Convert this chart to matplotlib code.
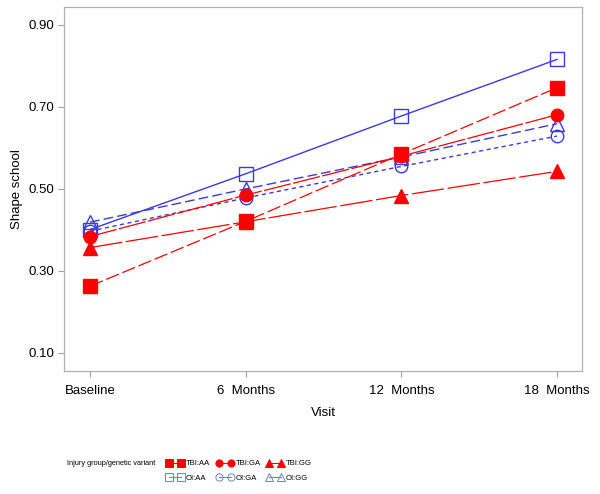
import matplotlib
matplotlib.use("Agg")
import matplotlib.pyplot as plt
from matplotlib.lines import Line2D

plt.rcParams["font.family"] = ["Liberation Sans", "DejaVu Sans"]

# --- data ---
visits = ["Baseline", "6  Months", "12  Months", "18  Months"]
tbi_aa = [0.263, 0.421, 0.585, 0.747]
tbi_ga = [0.384, 0.485, 0.580, 0.681]
tbi_gg = [0.357, 0.420, 0.484, 0.543]
oi_aa = [0.401, 0.537, 0.678, 0.816]
oi_ga = [0.397, 0.478, 0.555, 0.629]
oi_gg = [0.419, 0.500, 0.578, 0.659]
y_ticks = [0.10, 0.30, 0.50, 0.70, 0.90]

RED = "#ff0000"
BLUE = "#3a3ae0"
LEG_BLUE = "#6a86c4"

fig = plt.figure(figsize=(6.0, 4.94), dpi=100)
ax = fig.add_axes([0.1067, 0.249, 0.8633, 0.737])

x = range(len(visits))

# OI groups (open markers) first, TBI on top
ax.plot(x, oi_aa, color=BLUE, lw=1.0, ls="-", marker="s", ms=9.5,
        mfc="none", mec=BLUE, mew=1.0)
ax.plot(x, oi_ga, color=BLUE, lw=1.0, ls=(0, (3, 2.5)), marker="o", ms=9,
        mfc="none", mec=BLUE, mew=1.0)
ax.plot(x, oi_gg, color=BLUE, lw=1.0, ls=(0, (7, 3)), marker="^", ms=9.5,
        mfc="none", mec=BLUE, mew=1.0)

ax.plot(x, tbi_aa, color=RED, lw=0.9, ls=(0, (11, 3)), marker="s", ms=9.5,
        mfc=RED, mec=RED)
ax.plot(x, tbi_ga, color=RED, lw=0.9, ls=(0, (22, 2)), marker="o", ms=9,
        mfc=RED, mec=RED)
ax.plot(x, tbi_gg, color=RED, lw=0.9, ls=(0, (26, 3)), marker="^", ms=9.5,
        mfc=RED, mec=RED)

ax.set_xlim(-0.167, 3.16)
ax.set_ylim(0.056, 0.944)
ax.set_xticks(list(x))
ax.set_xticklabels(visits, fontsize=9.5)
ax.set_yticks(y_ticks)
ax.set_yticklabels([f"{v:.2f}" for v in y_ticks], fontsize=9.5)
ax.tick_params(axis="both", direction="out", length=4, width=0.8,
               color="#a0a0a0", pad=3)
ax.tick_params(axis="x", pad=6)
for sp in ax.spines.values():
    sp.set_color("#b0b0b0")
    sp.set_linewidth(0.9)

ax.set_xlabel("Visit", fontsize=9.5, labelpad=7)
ax.set_ylabel("Shape school", fontsize=9.5, labelpad=4)

# legend (column-major order so rows read TBI / OI)
def handle(color, marker, filled):
    return Line2D([], [], color=color, lw=0.8, marker=marker, ms=5.2,
                  mfc=color if filled else "none", mec=color, mew=0.7)

handles = [
    handle(RED, "s", True), handle(LEG_BLUE, "s", False),
    handle(RED, "o", True), handle(LEG_BLUE, "o", False),
    handle(RED, "^", True), handle(LEG_BLUE, "^", False),
]
labels = ["TBI:AA", "OI:AA", "TBI:GA", "OI:GA", "TBI:GG", "OI:GG"]
fig.legend(handles, labels, ncol=3, numpoints=2, frameon=False,
           fontsize=5.5, handlelength=2.2, handletextpad=0.3,
           columnspacing=0.8, labelspacing=0.95,
           loc="center left", bbox_to_anchor=(160 / 600, 1 - 471 / 494))
fig.text(67 / 600, 1 - 463 / 494, "Injury group/genetic variant",
         fontsize=5.3, va="center", ha="left")

fig.savefig("out.png", dpi=100)
